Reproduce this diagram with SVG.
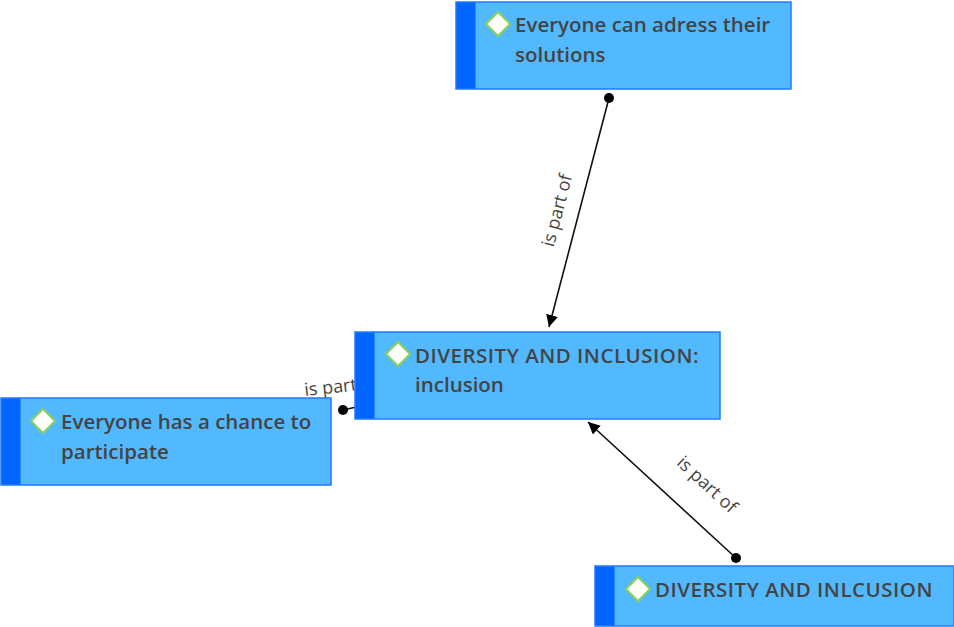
<svg xmlns="http://www.w3.org/2000/svg" width="954" height="627" viewBox="0 0 954 627">
  <defs>
    <style>
      .box { fill: #52b9ff; stroke: #1f7bff; stroke-width: 1.5; }
      .bar { fill: #0066ff; }
      .icon { fill: #ffffff; stroke: #8ccf5a; stroke-width: 2; }
      .title { font-family: "Open Sans", "Noto Sans", sans-serif; font-size: 20.5px; font-weight: 600; fill: #444444; }
      .caps { letter-spacing: 0.5px; }
      .link { stroke: #111111; stroke-width: 1.6; fill: none; }
      .dot { fill: #000000; }
      .lbl { font-family: "Open Sans", "Noto Sans", sans-serif; font-size: 18px; fill: #444444; }
    </style>
    <marker id="arrow" viewBox="0 0 12 12" refX="12" refY="6" markerWidth="12" markerHeight="12" markerUnits="userSpaceOnUse" orient="auto">
      <path d="M0,0 L12,6 L0,12 Z" fill="#000"/>
    </marker>
  </defs>

  <rect width="954" height="627" fill="#ffffff"/>

  <g id="connectors">
    <!-- solutions -> inclusion -->
    <line class="link" x1="609" y1="98" x2="549" y2="327" marker-end="url(#arrow)"/>
    <circle class="dot" cx="609" cy="98" r="5"/>
    <text class="lbl" transform="translate(563,212) rotate(-75.3)" text-anchor="middle">is part of</text>

    <!-- DIVERSITY AND INLCUSION -> inclusion -->
    <line class="link" x1="736" y1="558" x2="588" y2="422" marker-end="url(#arrow)"/>
    <circle class="dot" cx="736" cy="558" r="5"/>
    <text class="lbl" transform="translate(703,489) rotate(42.6)" text-anchor="middle">is part of</text>

    <!-- participate -> inclusion -->
    <line class="link" x1="343" y1="410" x2="370" y2="404" marker-end="url(#arrow)"/>
    <circle class="dot" cx="343" cy="410" r="5"/>
    <text class="lbl" transform="translate(305,396) rotate(-6)">is part of</text>
  </g>

  <g id="node-solutions">
    <rect class="box" x="456" y="2" width="335" height="87"/>
    <rect class="bar" x="456.5" y="2.5" width="19" height="86"/>
    <path class="icon" d="M498,12 L510,24 L498,36 L486,24 Z"/>
    <text class="title" x="515" y="32">Everyone can adress their</text>
    <text class="title" x="515" y="62">solutions</text>
  </g>

  <g id="node-inclusion">
    <rect class="box" x="355" y="332" width="365" height="87"/>
    <rect class="bar" x="355.5" y="332.5" width="19" height="86"/>
    <path class="icon" d="M398,342 L410,354 L398,366 L386,354 Z"/>
    <text class="title caps" x="415" y="363">DIVERSITY AND INCLUSION:</text>
    <text class="title" x="415" y="392">inclusion</text>
  </g>

  <g id="node-participate">
    <rect class="box" x="1" y="398" width="330" height="87"/>
    <rect class="bar" x="1.5" y="398.5" width="19" height="86"/>
    <path class="icon" d="M43,409 L55,421 L43,433 L31,421 Z"/>
    <text class="title" x="61" y="429">Everyone has a chance to</text>
    <text class="title" x="61" y="459">participate</text>
  </g>

  <g id="node-diversity">
    <rect class="box" x="595" y="566" width="359" height="60"/>
    <rect class="bar" x="595.5" y="566.5" width="19" height="59"/>
    <path class="icon" d="M638,577 L650,589 L638,601 L626,589 Z"/>
    <text class="title caps" x="655" y="597">DIVERSITY AND INLCUSION</text>
  </g>
</svg>
